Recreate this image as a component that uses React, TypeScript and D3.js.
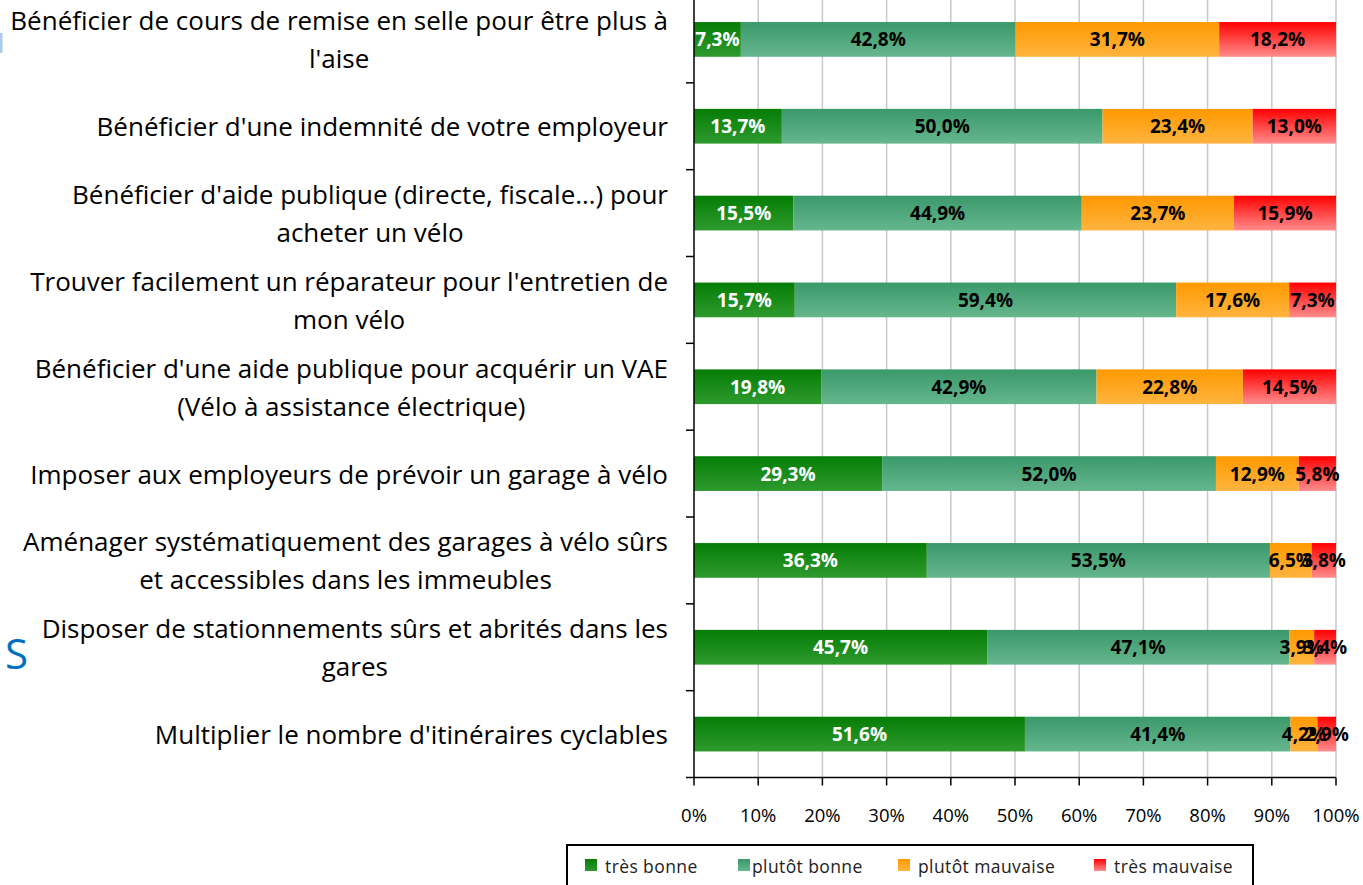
import React from "react";
import * as d3 from "d3";

const categories = [
  "Bénéficier de cours de remise en selle pour être plus à\nl'aise",
  "Bénéficier d'une indemnité de votre employeur",
  "Bénéficier d'aide publique (directe, fiscale…) pour\nacheter un vélo",
  "Trouver facilement un réparateur pour l'entretien de\nmon vélo",
  "Bénéficier d'une aide publique pour acquérir un VAE\n(Vélo à assistance électrique)",
  "Imposer aux employeurs de prévoir un garage à vélo",
  "Aménager systématiquement des garages à vélo sûrs\net accessibles dans les immeubles",
  "Disposer de stationnements sûrs et abrités dans les\ngares",
  "Multiplier le nombre d'itinéraires cyclables",
];
const seriesNames = ["très bonne", "plutôt bonne", "plutôt mauvaise", "très mauvaise"];
const tresBonne = [7.3, 13.7, 15.5, 15.7, 19.8, 29.3, 36.3, 45.7, 51.6];
const plutotBonne = [42.8, 50.0, 44.9, 59.4, 42.9, 52.0, 53.5, 47.1, 41.4];
const plutotMauvaise = [31.7, 23.4, 23.7, 17.6, 22.8, 12.9, 6.5, 3.9, 4.2];
const tresMauvaise = [18.2, 13.0, 15.9, 7.3, 14.5, 5.8, 3.8, 3.4, 2.9];
const xTicks = [0, 0.1, 0.2, 0.3, 0.4, 0.5, 0.6, 0.7, 0.8, 0.9, 1.0];

const gradients = [
  ["#057d05", "#2e9a2e"],
  ["#3a996a", "#66b68e"],
  ["#ff9900", "#ffb43f"],
  ["#ff0000", "#ff8c8c"],
];
const labelColors = ["#ffffff", "#000000", "#000000", "#000000"];

const FONT = "'Open Sans', sans-serif";

let ctx: CanvasRenderingContext2D | null = null;
function measure(s: string, size: number, weight = "normal") {
  if (!ctx) ctx = document.createElement("canvas").getContext("2d");
  ctx!.font = `${weight} ${size}px 'Open Sans'`;
  return ctx!.measureText(s).width;
}

export default function App() {
  const W = 1363, H = 885;
  const x0 = 694, x1 = 1336;
  const plotTop = -4, plotBottom = 777.5;
  const x = d3.scaleLinear().domain([0, 1]).range([x0, x1]);
  const y = d3.scaleBand().domain(categories).range([plotTop, plotBottom]).paddingInner(0.6).paddingOuter(0.3);
  const yb = d3.scaleBand().domain(categories).range([plotTop, plotBottom]);

  const rows = categories.map((c, i) => ({ c, vals: [tresBonne[i], plutotBonne[i], plutotMauvaise[i], tresMauvaise[i]] }));
  const stack = d3.stack<any>().keys([0, 1, 2, 3] as any).value((d: any, k: any) => d.vals[k]).offset(d3.stackOffsetExpand);
  const layers = stack(rows as any);

  const fmt = (v: number) => v.toFixed(1).replace(".", ",") + "%";

  const refW = measure("Bénéficier d'une indemnité de votre employeur", 24);
  const catSize = 1.015 * Math.min(26, Math.max(18, (24 * 563) / (refW || 563)));

  const lineH = 38;
  const legendItems = [
    { sq: 585, tx: 605 },
    { sq: 738, tx: 752 },
    { sq: 898, tx: 918 },
    { sq: 1094, tx: 1114 },
  ];

  return (
    <svg width={W} height={H} style={{ position: "absolute", left: 0, top: 0, background: "#fff" }} fontFamily={FONT}>
      <defs>
        {gradients.map((g, i) => (
          <linearGradient key={i} id={`g${i}`} x1="0" y1="0" x2="0" y2="1">
            <stop offset="0" stopColor={g[0]} />
            <stop offset="1" stopColor={g[1]} />
          </linearGradient>
        ))}
      </defs>
      <rect x={0} y={0} width={W} height={H} fill="#fff" />
      <rect x={0} y={33} width={2.5} height={20} fill="#a9cbea" />
      <text x={5} y={669} fontSize={42} fill="#0070c0">S</text>

      {xTicks.slice(1).map((t) => (
        <line key={t} x1={x(t)} x2={x(t)} y1={plotTop} y2={plotBottom} stroke="#c8c8c8" strokeWidth={1.5} />
      ))}

      {layers.map((layer, li) => (
        <g key={li}>
          {layer.map((d: any, ri: number) => (
            <rect key={ri} x={x(d[0])} y={y(categories[ri])!} width={x(d[1]) - x(d[0])} height={y.bandwidth()} fill={`url(#g${li})`} />
          ))}
        </g>
      ))}
      {layers.map((layer, li) => (
        <g key={"l" + li}>
          {layer.map((d: any, ri: number) => (
            <text key={ri} x={(x(d[0]) + x(d[1])) / 2} y={y(categories[ri])! + y.bandwidth() / 2 + 7} textAnchor="middle" fontSize={19} fontWeight="bold" fill={labelColors[li]}>
              {fmt(rows[ri].vals[li])}
            </text>
          ))}
        </g>
      ))}

      <line x1={x0} x2={x0} y1={plotTop} y2={plotBottom} stroke="#000" strokeWidth={1.5} />
      {categories.map((c, i) => (
        <line key={i} x1={686} x2={x0} y1={yb(c)!} y2={yb(c)!} stroke="#000" strokeWidth={1.5} />
      ))}
      <line x1={686} x2={x0} y1={plotBottom} y2={plotBottom} stroke="#000" strokeWidth={1.5} />
      <line x1={x0} x2={x1} y1={plotBottom} y2={plotBottom} stroke="#000" strokeWidth={1.5} />
      {xTicks.map((t) => (
        <g key={t}>
          <line x1={x(t)} x2={x(t)} y1={plotBottom} y2={plotBottom + 8} stroke="#000" strokeWidth={1.5} />
          <text x={x(t)} y={822} textAnchor="middle" fontSize={18.5} fill="#000">{d3.format(".0%")(t)}</text>
        </g>
      ))}

      {categories.map((c, i) => {
        const lines = c.split("\n");
        const maxW = Math.max(...lines.map((l) => measure(l, catSize)));
        const cx = 668 - maxW / 2;
        const cy = yb(c)! + yb.bandwidth() / 2;
        const startY = cy - ((lines.length - 1) * lineH) / 2 + 10;
        return (
          <text key={i} fontSize={catSize} fill="#000" textAnchor="middle">
            {lines.map((ln, k) => (
              <tspan key={k} x={cx} y={startY + k * lineH}>{ln}</tspan>
            ))}
          </text>
        );
      })}

      <rect x={567} y={845} width={686} height={52} fill="#fff" stroke="#000" strokeWidth={2} />
      {seriesNames.map((s, i) => (
        <g key={s}>
          <rect x={legendItems[i].sq} y={859} width={12} height={12} fill={`url(#g${i})`} />
          <text x={legendItems[i].tx} y={873} fontSize={17.5} letterSpacing={0.4} fill="#222">{s}</text>
        </g>
      ))}
    </svg>
  );
}
